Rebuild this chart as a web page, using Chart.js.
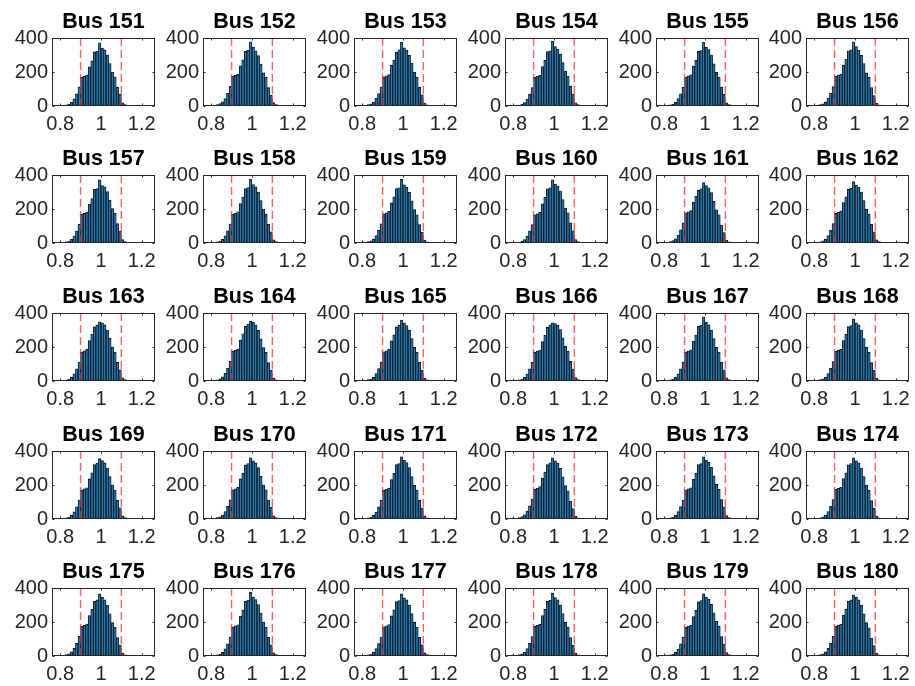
<!DOCTYPE html>
<html>
<head>
<meta charset="utf-8">
<script src="https://cdn.jsdelivr.net/npm/chart.js@4.4.0/dist/chart.umd.min.js"></script>
<style>
  html, body { margin: 0; padding: 0; background: #fff; }
  #fig { position: relative; width: 915px; height: 686px; overflow: hidden; background: #fff; }
  #fig canvas { position: absolute; }
</style>
</head>
<body>
<div id="fig"></div>
<script>
// Histogram bin centres (bin width 0.0125 p.u.)
const binCenters = [0.79375, 0.80625, 0.81875, 0.83125, 0.84375, 0.85625, 0.86875, 0.88125, 0.89375,
  0.90625, 0.91875, 0.93125, 0.94375, 0.95625, 0.96875, 0.98125, 0.99375, 1.00625, 1.01875, 1.03125,
  1.04375, 1.05625, 1.06875, 1.08125, 1.09375, 1.10625, 1.11875, 1.13125, 1.14375, 1.15625, 1.16875,
  1.18125, 1.19375, 1.20625];

const busNames = ['Bus 151', 'Bus 152', 'Bus 153', 'Bus 154', 'Bus 155', 'Bus 156',
  'Bus 157', 'Bus 158', 'Bus 159', 'Bus 160', 'Bus 161', 'Bus 162',
  'Bus 163', 'Bus 164', 'Bus 165', 'Bus 166', 'Bus 167', 'Bus 168',
  'Bus 169', 'Bus 170', 'Bus 171', 'Bus 172', 'Bus 173', 'Bus 174',
  'Bus 175', 'Bus 176', 'Bus 177', 'Bus 178', 'Bus 179', 'Bus 180'];

// Voltage-magnitude counts per bin, one array per bus
const bus151 = [1,2,4,7,12,22,42,71,111,170,176,182,230,265,318,322,372,340,330,300,250,200,172,112,68,18,8,4,2,3,1,1,0,1];
const bus152 = [0,2,3,8,14,25,44,75,115,175,180,186,236,272,322,328,378,346,325,296,246,195,168,108,64,20,9,5,3,1,1,0,0,1];
const bus153 = [1,1,4,8,13,23,46,73,112,172,178,185,240,270,315,330,375,342,328,298,252,198,170,110,66,17,7,4,2,1,1,0,1,0];
const bus154 = [0,2,4,6,12,20,40,70,108,168,175,180,232,268,320,325,380,350,335,305,255,205,175,115,70,19,8,3,2,1,0,1,0,0];
const bus155 = [1,2,3,7,11,22,43,72,110,170,178,184,235,268,322,326,375,345,332,300,248,198,170,112,68,18,8,4,2,2,1,0,0,0];
const bus156 = [0,1,4,8,13,24,45,76,114,175,182,188,240,275,325,330,378,350,328,298,250,195,168,108,62,16,7,3,2,1,1,1,0,0];
const bus157 = [1,2,4,7,12,21,40,70,110,168,174,180,228,262,316,320,372,338,330,302,252,202,174,114,70,20,8,4,3,2,2,1,1,1];
const bus158 = [0,2,3,7,12,22,42,72,112,170,176,184,232,270,320,326,375,344,330,300,250,200,170,110,66,18,8,4,3,2,1,1,1,0];
const bus159 = [1,2,4,8,13,23,43,74,113,172,178,186,236,272,320,325,375,342,328,298,248,196,166,108,64,17,7,4,3,2,2,1,1,1];
const bus160 = [0,1,3,6,11,20,40,70,108,166,172,180,230,268,318,324,372,345,334,306,256,206,178,118,72,20,9,4,3,2,1,1,1,0];
const bus161 = [1,2,4,8,14,25,46,78,118,178,184,190,240,275,310,318,355,338,325,296,245,195,166,106,62,16,7,3,2,2,1,1,0,1];
const bus162 = [0,2,4,7,13,23,44,74,114,174,180,188,238,272,315,322,362,340,328,300,250,198,170,110,66,18,8,4,3,2,1,1,1,0];
const bus163 = [1,2,4,7,12,22,42,72,112,170,178,186,238,275,318,330,348,342,330,300,252,200,170,110,66,18,8,4,2,1,1,0,1,0];
const bus164 = [0,2,3,7,13,24,45,76,116,176,182,188,240,278,322,335,352,345,330,298,248,196,168,108,64,17,7,3,2,1,1,1,0,0];
const bus165 = [1,1,4,8,12,22,43,73,112,172,178,186,236,272,318,328,358,340,326,298,250,198,170,110,64,16,7,4,2,2,1,0,0,1];
const bus166 = [0,2,4,7,12,21,41,71,110,168,176,182,232,268,315,330,342,338,328,302,254,204,176,116,70,20,8,4,3,1,1,1,0,0];
const bus167 = [1,2,3,7,12,22,42,72,110,170,176,184,234,270,322,328,378,345,330,300,250,198,170,110,66,18,8,4,2,2,1,1,0,0];
const bus168 = [0,2,4,8,13,23,44,74,114,174,180,186,238,274,320,326,365,342,330,300,250,198,168,108,64,17,7,4,2,1,1,0,1,0];
const bus169 = [1,2,4,7,12,22,42,72,112,170,178,184,236,272,320,328,355,344,330,300,250,200,170,110,66,18,8,4,2,2,1,1,0,1];
const bus170 = [0,2,3,8,13,23,44,74,113,172,178,186,236,270,318,326,360,342,330,302,252,200,172,112,68,19,8,4,3,1,1,0,0,0];
const bus171 = [1,1,4,7,12,21,41,71,110,168,175,182,232,268,320,326,365,345,332,302,250,198,170,110,66,18,7,4,2,1,1,1,0,0];
const bus172 = [0,2,4,8,14,25,46,77,117,176,182,190,240,276,320,330,360,342,328,298,248,196,166,106,62,16,7,3,2,1,1,0,0,1];
const bus173 = [1,2,3,7,12,22,43,73,112,170,177,184,234,270,320,326,365,346,334,304,254,204,174,114,70,20,9,4,3,2,1,1,0,0];
const bus174 = [0,2,4,7,13,23,44,75,114,174,180,186,238,272,318,326,360,342,330,300,250,198,168,108,64,17,7,4,2,1,1,1,1,0];
const bus175 = [1,2,4,8,13,24,45,75,115,175,180,188,238,274,322,330,365,345,330,300,248,196,168,108,64,17,7,3,2,1,1,0,0,1];
const bus176 = [0,1,3,7,12,22,42,72,112,170,178,184,234,270,322,328,375,346,332,302,252,200,170,110,66,18,8,4,2,2,1,1,0,0];
const bus177 = [1,2,4,7,12,22,43,73,112,172,178,185,236,272,320,326,365,342,330,300,250,198,170,110,66,18,8,4,3,2,1,1,0,0];
const bus178 = [0,2,3,8,13,23,44,74,114,174,180,186,238,274,322,328,370,344,330,300,250,198,168,108,64,17,7,3,2,1,1,0,1,0];
const bus179 = [1,2,4,7,12,21,41,71,110,168,176,182,232,268,318,326,365,346,334,304,254,204,174,114,70,20,9,4,2,2,1,1,0,0];
const bus180 = [0,2,4,8,13,24,45,76,116,176,182,188,240,276,322,330,360,345,330,298,248,196,166,106,62,16,7,3,2,1,1,1,0,1];

const busCounts = [bus151, bus152, bus153, bus154, bus155, bus156, bus157, bus158, bus159, bus160,
  bus161, bus162, bus163, bus164, bus165, bus166, bus167, bus168, bus169, bus170,
  bus171, bus172, bus173, bus174, bus175, bus176, bus177, bus178, bus179, bus180];

// Voltage limits (p.u.) and axis ticks
const voltageLimits = [0.9, 1.1];
const xTickValues = [0.8, 1.0, 1.2];
const yTickValues = [0, 200, 400];
const xRange = [0.76, 1.265];
const yRange = [0, 400];

// Grid of axes: left edge of each column, top edge of each row
const colLeft = [52, 203, 354, 505, 656, 806];
const rowTop = [38, 175, 313, 451, 588];
const AX_W = 103, AX_H = 68;
const Y_AXIS_W = 50, X_AXIS_H = 30, TOP_SPACE = 37, RIGHT_SPACE = 12;

const FONT = "'Liberation Sans', Arial, Helvetica, sans-serif";
const AXIS_COLOR = '#262626';

// Box around the plotting area plus small inward tick marks on all four sides
const boxPlugin = {
  id: 'axesBox',
  afterDatasetsDraw(chart) {
    const { ctx, chartArea: a, scales } = chart;
    const L = Math.round(a.left) + 0.5, R = Math.round(a.right) - 0.5;
    const T = Math.round(a.top) + 0.5, B = Math.round(a.bottom) - 0.5;
    ctx.save();
    ctx.strokeStyle = AXIS_COLOR;
    ctx.lineWidth = 1;
    ctx.strokeRect(L, T, R - L, B - T);
    ctx.beginPath();
    const tl = 2;
    xTickValues.forEach(v => {
      const px = Math.round(scales.x.getPixelForValue(v)) + 0.5;
      ctx.moveTo(px, B); ctx.lineTo(px, B - tl);
      ctx.moveTo(px, T); ctx.lineTo(px, T + tl);
    });
    yTickValues.forEach(v => {
      const py = Math.round(scales.y.getPixelForValue(v)) + 0.5;
      ctx.moveTo(L, py); ctx.lineTo(L + tl, py);
      ctx.moveTo(R, py); ctx.lineTo(R - tl, py);
    });
    ctx.stroke();
    ctx.restore();
  }
};

const fig = document.getElementById('fig');

busNames.forEach((name, i) => {
  const col = i % 6, row = Math.floor(i / 6);
  const canvas = document.createElement('canvas');
  const w = Y_AXIS_W + AX_W + RIGHT_SPACE;
  const h = TOP_SPACE + AX_H + X_AXIS_H;
  canvas.width = w; canvas.height = h;
  canvas.style.width = w + 'px'; canvas.style.height = h + 'px';
  canvas.style.left = (colLeft[col] - Y_AXIS_W) + 'px';
  canvas.style.top = (rowTop[row] - TOP_SPACE) + 'px';
  fig.appendChild(canvas);

  const counts = busCounts[i];
  const limitSets = voltageLimits.map(v => ({
    type: 'line',
    data: [{ x: v, y: yRange[1] }, { x: v, y: yRange[0] }],
    borderColor: 'rgba(255, 30, 30, 0.7)',
    borderWidth: 1.4,
    borderDash: [8, 4],
    pointRadius: 0,
    fill: false,
    order: 0
  }));

  new Chart(canvas, {
    type: 'bar',
    data: {
      datasets: [{
        type: 'bar',
        data: binCenters.map((x, k) => ({ x, y: counts[k] })),
        backgroundColor: 'rgba(0, 114, 189, 0.65)',
        borderColor: '#101010',
        borderWidth: 0.7,
        barPercentage: 1,
        categoryPercentage: 1,
        order: 1
      }, ...limitSets]
    },
    options: {
      responsive: false,
      animation: false,
      devicePixelRatio: 1,
      layout: { padding: { top: 8, right: RIGHT_SPACE, left: 0, bottom: 0 } },
      plugins: {
        legend: { display: false },
        tooltip: { enabled: false },
        title: {
          display: true,
          text: name,
          fullSize: false,
          color: '#000',
          font: { family: FONT, size: 21.5, weight: 'bold', lineHeight: 1.2 },
          padding: { top: 0, bottom: TOP_SPACE - 8 - 25.8 }
        }
      },
      scales: {
        x: {
          type: 'linear',
          offset: false,
          bounds: 'data',
          min: xRange[0], max: xRange[1],
          grid: { display: false, drawTicks: false, offset: false },
          border: { display: false },
          afterBuildTicks: s => { s.ticks = xTickValues.map(v => ({ value: v })); },
          afterDataLimits: s => { s.min = xRange[0]; s.max = xRange[1]; },
          afterFit: s => { s.height = X_AXIS_H; },
          ticks: {
            padding: 6,
            color: AXIS_COLOR,
            maxRotation: 0,
            autoSkip: false,
            font: { family: FONT, size: 20 },
            callback: v => (Math.abs(v - 1) < 1e-9 ? '1' : String(v))
          }
        },
        y: {
          min: yRange[0], max: yRange[1],
          grid: { display: false, drawTicks: false },
          border: { display: false },
          afterBuildTicks: s => { s.ticks = yTickValues.map(v => ({ value: v })); },
          afterFit: s => { s.width = Y_AXIS_W; },
          ticks: {
            padding: 4,
            color: AXIS_COLOR,
            autoSkip: false,
            font: { family: FONT, size: 20 }
          }
        }
      }
    },
    plugins: [boxPlugin]
  });
});
</script>
</body>
</html>
